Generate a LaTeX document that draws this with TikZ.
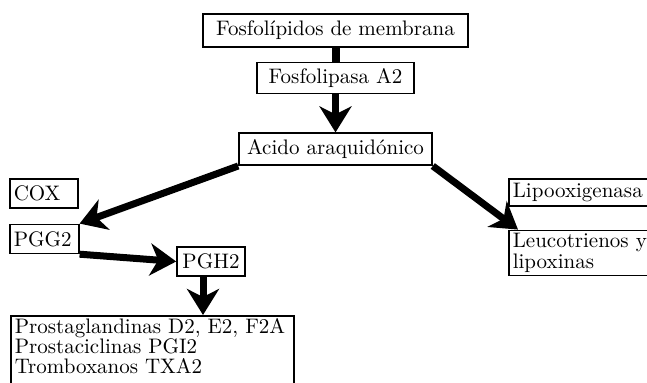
\documentclass[tikz,border=0pt]{standalone}
\usepackage{tikz}
\usetikzlibrary{arrows.meta,positioning}

\begin{document}
\begin{tikzpicture}[
    x=0.5pt, y=-0.5pt,
    pathbox/.style={
      draw=black,
      line width=0.8pt,
      inner xsep=2pt,
      inner ysep=1.5pt,
      font=\fontsize{10.5}{9.5}\selectfont
    },
    leftbox/.style={pathbox, align=left},
    bar/.style={line width=4pt, draw=black},
    arrow/.style={-{Stealth[length=13pt,width=16pt,inset=4pt]}, line width=3.5pt, draw=black}
  ]
    \clip (0,0) rectangle (647,383);

    \node[pathbox, minimum width=132.5pt, minimum height=16.5pt]
      (memb) at (335.5,30.5) {Fosfol\'ipidos de membrana};
    \node[pathbox, minimum width=78.5pt, minimum height=15.5pt, below=7pt of memb]
      (pla2) {Fosfolipasa A2};
    \node[pathbox, minimum width=96.5pt, minimum height=16pt, below=19pt of pla2]
      (araq) {Acido araquid\'onico};

    % ciclooxigenasa
    \node[leftbox, text width=30pt, minimum height=14.5pt, anchor=north west]
      (cox) at (9,178) {COX};
    \node[leftbox, text width=30.5pt, minimum height=14.5pt,
      below=7.5pt of cox.south west, anchor=north west]
      (pgg) {PGG2};
    \node[pathbox, minimum width=34pt, minimum height=14.5pt]
      (pgh) at (211,261.5) {PGH2};
    \node[leftbox, text width=137.5pt, text depth=25pt, anchor=north west,
      font=\fontsize{10.5}{10}\selectfont]
      (prost) at (10,315) {Prostaglandinas D2, E2, F2A\\Prostaciclinas PGI2\\Tromboxanos TXA2};

    % lipooxigenasa
    \node[leftbox, text width=80pt, minimum height=13.5pt, anchor=north west]
      (lox) at (508,178) {Lipooxigenasa};
    \node[leftbox, text width=80pt, font=\fontsize{10.5}{8.5}\selectfont,
      below=11.5pt of lox.south west, anchor=north west]
      (leuco) {Leucotrienos y\\lipoxinas};

    \draw[bar] (pla2.north) -- (pla2.north |- memb.south);
    \draw[arrow] (pla2) -- (araq);
    \draw[arrow] (araq.south west) -- (pgg.north east);
    \draw[arrow] (araq.south east) -- ([xshift=5pt]leuco.north west);
    \draw[arrow] (pgg.south east) -- (pgh.west);
    \draw[arrow] ([xshift=-4pt]pgh.south) -- ([xshift=-4pt]pgh.south |- prost.north);
  \end{tikzpicture}
\end{document}
